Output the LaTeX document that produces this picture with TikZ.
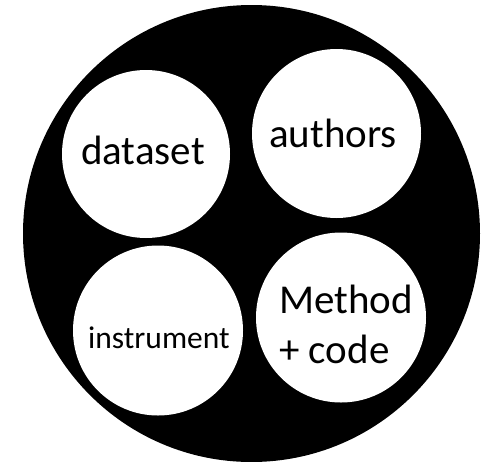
\documentclass[tikz,border=0pt]{standalone}
\usepackage{fontspec}
\setmainfont{Carlito}
\begin{document}
\begin{tikzpicture}[x=1pt,y=-1pt,
  disc/.style={circle,fill=white,draw=none,inner sep=0pt},
  word/.style={anchor=base west,inner sep=0pt,text=black},
  big/.style={font=\fontsize{41}{50}\selectfont},
  small/.style={font=\fontsize{31.5}{38}\selectfont}]
\useasboundingbox (0,0) rectangle (490,461);
\clip (0,0) rectangle (490,461);
% outer black disc
\node[circle,fill=black,inner sep=0pt,minimum size=457pt] (outer) at (251.5,233.5) {};
% four inner discs
\node[disc,minimum size=168pt] (dataset) at (146,154) {};
\node[disc,minimum size=169pt] (authors) at (336.5,133.5) {};
\node[disc,minimum size=170pt] (instrument) at (158,330.5) {};
\node[disc,minimum size=170pt] (method) at (341,317.5) {};
% labels
\node[word,big] (tdataset) at (81,164) {dataset};
\node[word,big] (tauthors) at (269,147) {authors};
\node[word,small] (tinstrument) at (88,348) {instrument};
\node[word,big] (tmethod) at (279,313) {Method};
\node[word,big] (tcode) at (279,363) {+ code};
\end{tikzpicture}
\end{document}
